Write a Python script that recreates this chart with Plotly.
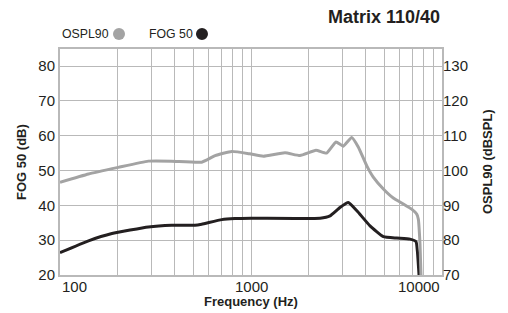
import numpy as np
import plotly.graph_objects as go

# OSPL90 (dBSPL, right axis)
ospl_freq = [100, 141, 202, 290, 384, 552, 649, 793, 985, 1159, 1507, 1806, 2188, 2488,
             2787, 3043, 3367, 3650, 4033, 4366, 4932, 5558, 6271, 6937, 7370, 7515, 7671, 7762]
ospl_val = [96.6, 99.0, 100.9, 102.7, 102.7, 102.4, 104.3, 105.5, 104.8, 104.1, 105.1, 104.3, 105.8, 105.0,
            108.2, 107.0, 109.5, 106.7, 101.4, 98.1, 94.7, 92.1, 90.4, 88.9, 87.5, 86.1, 78.9, 70.0]

# FOG 50 (dB, left axis)
fog_freq = [100, 141, 187, 290, 384, 509, 552, 703, 824, 1000, 2300, 2594, 2924, 3230,
            3577, 4198, 4932, 5795, 6795, 7310, 7430, 7580]
fog_val = [26.4, 29.8, 31.9, 33.8, 34.3, 34.3, 34.6, 35.9, 36.2, 36.3, 36.3, 37.0, 39.4, 40.8,
           38.5, 34.1, 31.0, 30.6, 30.3, 29.6, 26.9, 20.0]

left_ticks = [20, 30, 40, 50, 60, 70, 80]
right_ticks = [70, 80, 90, 100, 110, 120, 130]
x_ticks = [100, 1000, 10000]
x_tick_anchor = ["left", "center", "right"]

GRAY = "#a3a3a3"
BLACK = "#231f20"
GRID = "#b9b9b9"
TXT = "#231f20"
FONT = "Liberation Sans, Arial, sans-serif"

fig = go.Figure()
fig.add_trace(go.Scatter(x=ospl_freq, y=ospl_val, mode="lines", yaxis="y2",
                         line=dict(color=GRAY, width=3, shape="spline", smoothing=0.4),
                         showlegend=False))
fig.add_trace(go.Scatter(x=fog_freq, y=fog_val, mode="lines", yaxis="y",
                         line=dict(color=BLACK, width=3, shape="spline", smoothing=0.4),
                         showlegend=False))

fig.update_layout(
    width=508, height=313,
    margin=dict(l=60, r=66, t=49, b=38, autoexpand=False),
    paper_bgcolor="white", plot_bgcolor="white",
    font=dict(family=FONT, color=TXT, size=14),
    xaxis=dict(type="log", range=[2, 4], dtick="D1", showticklabels=False,
               showgrid=True, gridcolor=GRID, gridwidth=1.2,
               showline=True, linecolor=GRID, linewidth=2, mirror=True,
               ticks="", zeroline=False, automargin=False),
    yaxis=dict(range=[20, 84.9], tickvals=left_ticks, showgrid=True, gridcolor=GRID, gridwidth=1.2,
               showline=True, linecolor=GRID, linewidth=2, mirror=True, automargin=False,
               ticks="", zeroline=False, tickfont=dict(size=15, color=TXT)),
    yaxis2=dict(range=[70, 134.9], tickvals=right_ticks, overlaying="y", side="right",
                showgrid=False, showline=False, ticks="", zeroline=False, automargin=False,
                tickfont=dict(size=15, color=TXT)),
)

ann = []
for t, anc in zip(x_ticks, x_tick_anchor):
    ann.append(dict(x=np.log10(t), y=0, xref="x", yref="paper", yanchor="top", yshift=-1,
                    xanchor=anc, text=str(t), showarrow=False, font=dict(size=15, color=TXT)))
ann += [
    dict(x=1, y=1.1416, xref="paper", yref="paper", xanchor="right", yanchor="middle",
         text="<b>Matrix 110/40</b>", showarrow=False, font=dict(size=18, color=TXT)),
    dict(x=0, y=1.066, xref="paper", yref="paper", xanchor="left", yanchor="middle",
         text="OSPL90", showarrow=False, font=dict(size=12.3, color=TXT)),
    dict(x=0.2277, y=1.066, xref="paper", yref="paper", xanchor="left", yanchor="middle",
         text="FOG 50", showarrow=False, font=dict(size=12.3, color=TXT)),
    dict(x=-0.102, y=0.5, xref="paper", yref="paper", xanchor="center", yanchor="middle",
         textangle=-90, text="<b>FOG 50 (dB)</b>", showarrow=False, font=dict(size=13, color=TXT)),
    dict(x=1.118, y=0.5, xref="paper", yref="paper", xanchor="center", yanchor="middle",
         textangle=-90, text="<b>OSPL90 (dBSPL)</b>", showarrow=False, font=dict(size=13, color=TXT)),
    dict(x=0.5, y=-0.118, xref="paper", yref="paper", xanchor="center", yanchor="middle",
         text="<b>Frequency (Hz)</b>", showarrow=False, font=dict(size=13, color=TXT)),
]
fig.update_layout(annotations=ann)

for xc, col in [(0.1545, GRAY), (0.3717, BLACK)]:
    fig.add_shape(type="circle", xref="paper", yref="paper", xsizemode="pixel", ysizemode="pixel",
                  xanchor=xc, yanchor=1.066, x0=-6, x1=6, y0=-6, y1=6,
                  fillcolor=col, line=dict(width=0))

fig.write_html("out.html", config={"displayModeBar": False},
               post_script="document.body.style.margin='0px';")
